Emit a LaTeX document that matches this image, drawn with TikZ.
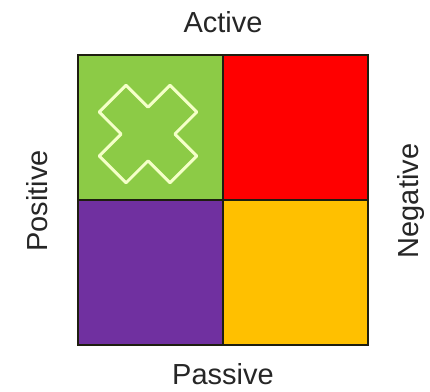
\documentclass[tikz,border=0pt]{standalone}
\usepackage{fontspec}
\setmainfont{Liberation Sans}
\usepackage{xcolor}
\definecolor{QuadGreen}{HTML}{8CCB46}
\definecolor{QuadRed}{HTML}{FF0000}
\definecolor{QuadPurple}{HTML}{7030A0}
\definecolor{QuadYellow}{HTML}{FFC000}
\definecolor{QuadEdge}{HTML}{1E1E10}
\definecolor{CrossLine}{HTML}{F4FFC8}
\usetikzlibrary{positioning}
\tikzset{
  quad/.style={draw=QuadEdge, line width=2pt, minimum size=145pt, inner sep=0pt, outer sep=0pt},
  axislabel/.style={font=\fontsize{29}{32}\selectfont, text=black!85},
  crossline/.style={draw=CrossLine, line width=3pt, line join=round}
}

\begin{document}
\begin{tikzpicture}[x=1pt, y=-1pt]
  \useasboundingbox (0,0) rectangle (430,391);

  % four quadrants
  \node[quad, fill=QuadGreen] (topleft) at (150.5,127.5) {};
  \node[quad, fill=QuadRed, right=0pt of topleft] (topright) {};
  \node[quad, fill=QuadPurple, below=0pt of topleft] (botleft) {};
  \node[quad, fill=QuadYellow, below=0pt of topright] (botright) {};

  % cross mark in the green cell
  \begin{scope}[shift={(topleft.center)}, shift={(-2.5,6.5)}, rotate=45]
    \draw[crossline] (19,50) -- (19,19) -- (50,19) -- (50,-19) -- (19,-19)
      -- (19,-50) -- (-19,-50) -- (-19,-19) -- (-50,-19) -- (-50,19)
      -- (-19,19) -- (-19,50) -- cycle;
  \end{scope}

  % axis labels
  \node[axislabel] (active) at (223,22) {Active};
  \node[axislabel] (passive) at (223,374) {Passive};
  \node[axislabel, rotate=90] (positive) at (37,201) {Positive};
  \node[axislabel, rotate=90] (negative) at (411,201) {Negative};
\end{tikzpicture}
\end{document}
